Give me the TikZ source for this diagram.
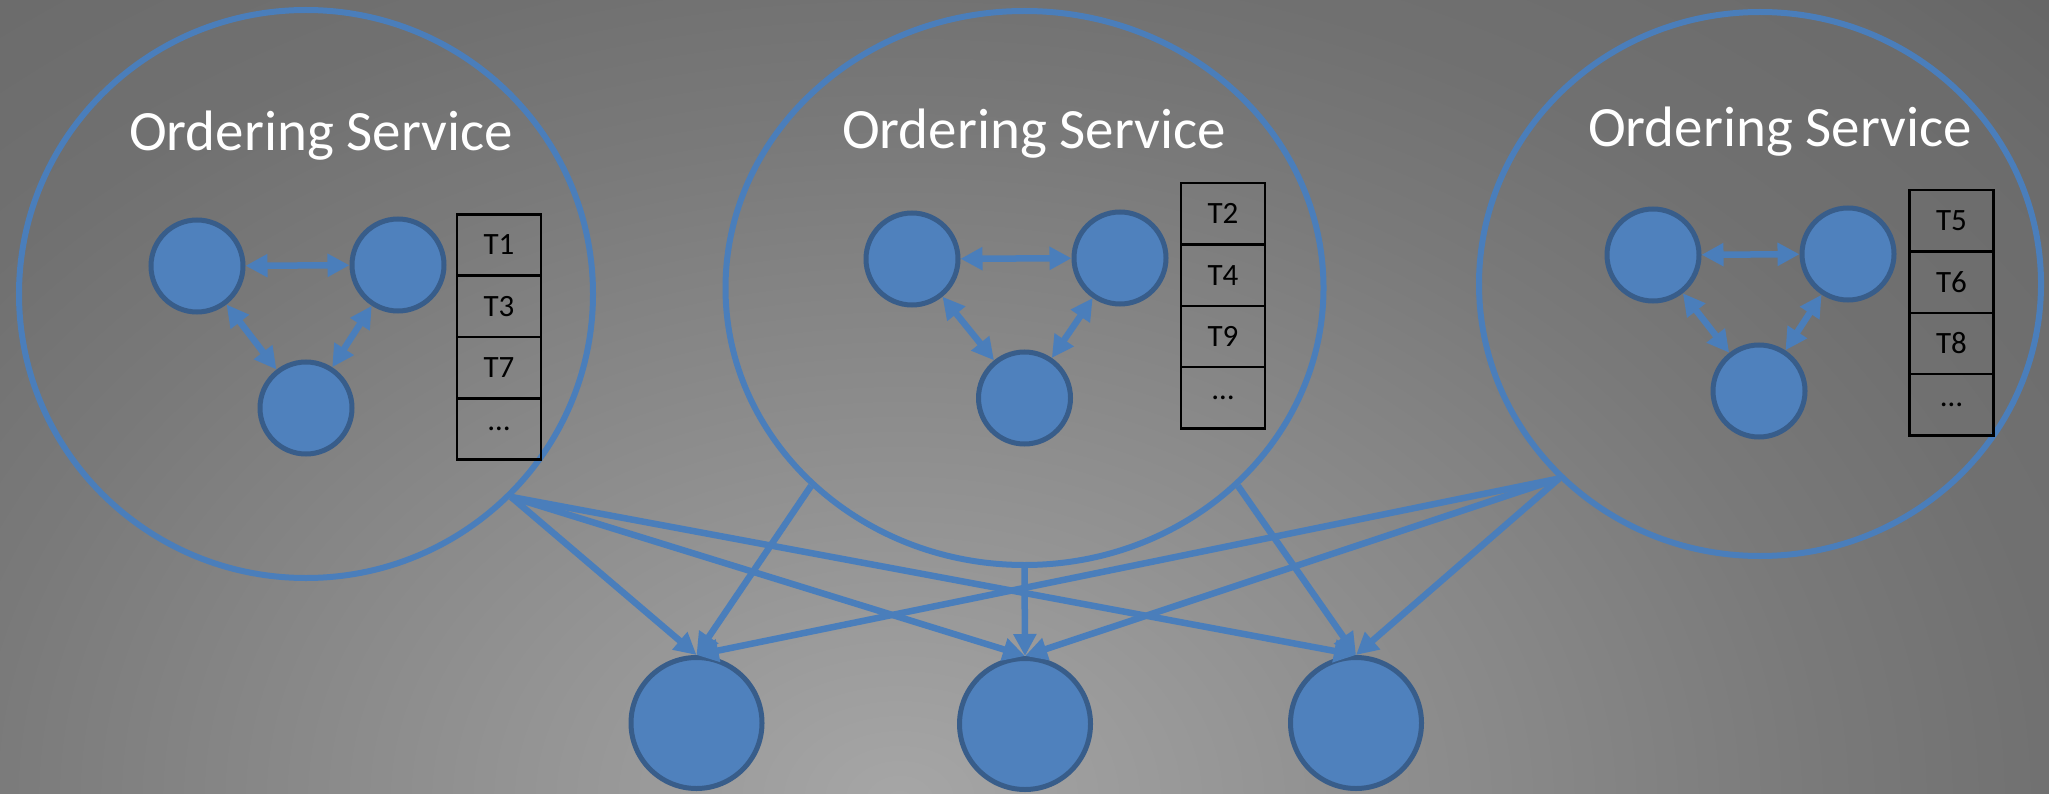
\documentclass[tikz,border=0pt]{standalone}
\usepackage{fontspec}
\setmainfont{Carlito}
\usetikzlibrary{shapes.geometric,arrows.meta}
\definecolor{bg4}{RGB}{101,101,101}
\definecolor{lineblue}{RGB}{74,126,187}
\definecolor{nodefill}{RGB}{79,129,189}
\definecolor{nodeborder}{RGB}{56,93,138}
\begin{document}
\begin{tikzpicture}[x=1pt,y=-1pt,
  big/.style={ellipse, draw=lineblue, line width=6pt, inner sep=0pt},
  peer/.style={circle, fill=nodefill, draw=nodeborder, line width=5pt, minimum size=92pt, inner sep=0pt},
  client/.style={circle, fill=nodefill, draw=nodeborder, line width=5pt, minimum size=131pt, inner sep=0pt},
  cell/.style={rectangle, draw=black, line width=2.5pt, minimum width=84pt, minimum height=61.3pt, inner sep=0pt, font=\fontsize{31}{31}\selectfont},
  title/.style={text=white, font=\fontsize{57}{60}\selectfont, anchor=base, inner sep=0pt},
  link/.style={draw=lineblue, line width=6.5pt, {Triangle[length=22pt,width=22pt]}-{Triangle[length=22pt,width=22pt]}},
  feed/.style={draw=lineblue, line width=6.5pt, -{Triangle[length=22pt,width=22pt]}}]
\useasboundingbox (0,0) rectangle (2049,794);
\begin{scope}
  \clip (0,0) rectangle (2049,794);
  \fill[bg4] (0,0) rectangle (2049,794);
  \foreach \g in {102,...,166} {
    \pgfmathsetmacro\rr{\g<108.5 ? 62-(\g-101) : (\g<113.5 ? 55-(\g-108)*2.2 : (\g<122.5 ? 44-(\g-113) : 35-(\g-122)*35/44))}
    \pgfmathsetmacro\ax{26*\rr+13}
    \pgfmathsetmacro\ay{18.8*\rr+9.4}
    \definecolor{bgtmp}{RGB}{\g,\g,\g}
    \fill[bgtmp] (900,800) ellipse [x radius=\ax pt, y radius=\ay pt];
  }
\end{scope}

% ordering service ellipses
\node[big, minimum width=574pt, minimum height=568pt] (L) at (306,294) {};
\node[big, minimum width=598pt, minimum height=554pt] (M) at (1024.5,288) {};
\node[big, minimum width=562pt, minimum height=544pt] (R) at (1760,284) {};

% titles
\node[title] (tL) at (321,151) {Ordering Service};
\node[title] (tM) at (1034,149) {Ordering Service};
\node[title] (tR) at (1780,147) {Ordering Service};

% bottom clients
\node[client] (B1) at (696.5,723) {};
\node[client] (B2) at (1025,724) {};
\node[client] (B3) at (1356,723) {};

% connectors to clients
\draw[feed] (L.south east) -- (B1.north);
\draw[feed] (L.south east) -- (B2.north);
\draw[feed] (L.south east) -- (B3.north);
\draw[feed] (M.south west) -- (B1.north);
\draw[feed] (M.south) -- (B2.north);
\draw[feed] (M.south east) -- (B3.north);
\draw[feed] (R.south west) -- (B1.north);
\draw[feed] (R.south west) -- (B2.north);
\draw[feed] (R.south west) -- (B3.north);

% left cluster
\node[peer] (LA) at (197,266) {};
\node[peer] (LB) at (398,265) {};
\node[peer] (LC) at (306,408) {};
\draw[link] (LA) -- (LB);
\draw[link] (LA) -- (LC);
\draw[link] (LB) -- (LC);

% middle cluster
\node[peer] (MA) at (912,259) {};
\node[peer] (MB) at (1120,258) {};
\node[peer] (MC) at (1024.5,398) {};
\draw[link] (MA) -- (MB);
\draw[link] (MA) -- (MC);
\draw[link] (MB) -- (MC);

% right cluster
\node[peer] (RA) at (1653,255) {};
\node[peer] (RB) at (1848,254) {};
\node[peer] (RC) at (1759,391) {};
\draw[link] (RA) -- (RB);
\draw[link] (RA) -- (RC);
\draw[link] (RB) -- (RC);

% tables
\node[cell] (lt1) at (499,245) {T1};
\node[cell] (lt2) at (499,306.3) {T3};
\node[cell] (lt3) at (499,367.6) {T7};
\node[cell] (lt4) at (499,428.9) {…};

\node[cell] (mt1) at (1223,213.8) {T2};
\node[cell] (mt2) at (1223,275.1) {T4};
\node[cell] (mt3) at (1223,336.4) {T9};
\node[cell] (mt4) at (1223,397.7) {…};

\node[cell] (rt1) at (1951.5,220.9) {T5};
\node[cell] (rt2) at (1951.5,282.2) {T6};
\node[cell] (rt3) at (1951.5,343.5) {T8};
\node[cell] (rt4) at (1951.5,404.8) {…};
\end{tikzpicture}
\end{document}
